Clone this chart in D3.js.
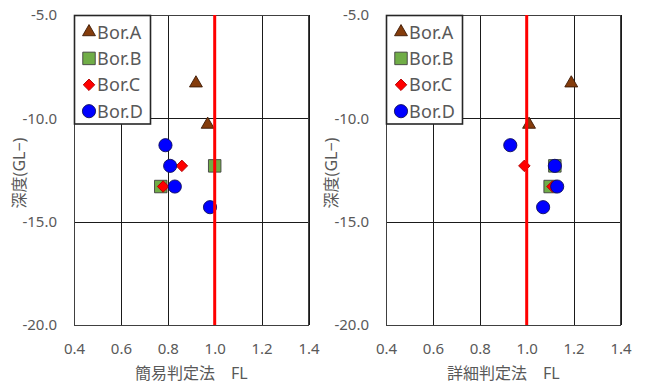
<!DOCTYPE html>
<html>
<head>
<meta charset="utf-8">
<script src="https://cdn.jsdelivr.net/npm/d3@7"></script>
<style>
  body { margin: 0; background: #fff; }
  text { font-family: "Noto Sans", "Noto Sans CJK JP", sans-serif; fill: #595959; }
</style>
</head>
<body>
<div id="chart"></div>
<script>
// chart.js

const chart_w = 645;
const chart_h = 385;

// Data: FL values per borehole, same depths in both panels
const series = ["Bor.A", "Bor.B", "Bor.C", "Bor.D"];

const depthA = [-8.3, -10.3];
const simpleA = [0.92, 0.97];
const detailA = [1.19, 1.01];

const depthB = [-12.3, -13.3];
const simpleB = [1.00, 0.77];
const detailB = [1.12, 1.10];

const depthC = [-12.3, -13.3];
const simpleC = [0.86, 0.78];
const detailC = [0.99, 1.11];

const depthD = [-11.3, -12.3, -13.3, -14.3];
const simpleD = [0.79, 0.81, 0.83, 0.98];
const detailD = [0.93, 1.12, 1.13, 1.07];

const xTicks = [0.4, 0.6, 0.8, 1.0, 1.2, 1.4];
const yTicks = [-5, -10, -15, -20];
const limitFL = 1.0;

const xTitles = ["簡易判定法\u2002\u2002FL", "詳細判定法\u2002\u2002FL"];
const yTitle = "深度(GL−)";

// Marker styles
const markers = {
    "Bor.A": { type: d3.symbolTriangle, size: 72, fill: "#843c0c", stroke: "#3d1a04", rot: 0 },
    "Bor.B": { type: d3.symbolSquare, size: 156, fill: "#70ad47", stroke: "#404040", rot: 0 },
    "Bor.C": { type: d3.symbolSquare, size: 66, fill: "#ff0000", stroke: "#b00000", rot: 45 },
    "Bor.D": { type: d3.symbolCircle, size: 136, fill: "#0000ff", stroke: "#10105a", rot: 0 }
};

const svg = d3.select("#chart")
    .append("svg")
    .attr("width", chart_w)
    .attr("height", chart_h);

const plotTop = 15;
const plotH = 310;
const plotW = 234.5;
const panelLeft = [74, 386];

function pointsOf(depths, fls) {
    return depths.map((d, i) => ({ depth: d, fl: fls[i] }));
}

const panelData = [
    [pointsOf(depthA, simpleA), pointsOf(depthB, simpleB), pointsOf(depthC, simpleC), pointsOf(depthD, simpleD)],
    [pointsOf(depthA, detailA), pointsOf(depthB, detailB), pointsOf(depthC, detailC), pointsOf(depthD, detailD)]
];

function drawPanel(p) {
    const g = svg.append("g")
        .attr("transform", `translate(${panelLeft[p]}, ${plotTop})`);

    const x = d3.scaleLinear().domain([0.4, 1.4]).range([0, plotW]);
    const y = d3.scaleLinear().domain([-5, -20]).range([0, plotH]);

    // grid + tick labels
    const yAxis = g.append("g")
        .call(d3.axisLeft(y).tickValues(yTicks).tickSize(-plotW).tickPadding(17)
            .tickFormat(d => d.toFixed(1)));
    const xAxis = g.append("g")
        .attr("transform", `translate(0, ${plotH})`)
        .call(d3.axisBottom(x).tickValues(xTicks).tickSize(-plotH).tickPadding(18)
            .tickFormat(d => d.toFixed(1)));

    [xAxis, yAxis].forEach(a => {
        a.select(".domain").remove();
        a.selectAll("line").attr("stroke", "#1a1a1a").attr("shape-rendering", "crispEdges");
        a.selectAll("text").attr("fill", "#595959").style("font-size", "15px")
            .attr("font-family", null);
    });

    g.append("rect")
        .attr("width", plotW)
        .attr("height", plotH)
        .attr("fill", "none")
        .attr("stroke", "#404040")
        .attr("shape-rendering", "crispEdges");

    // markers
    panelData[p].forEach((pts, si) => {
        const m = markers[series[si]];
        g.selectAll(null)
            .data(pts)
            .join("path")
            .attr("d", d3.symbol().type(m.type).size(m.size))
            .attr("transform", d => `translate(${x(d.fl)}, ${y(d.depth)}) rotate(${m.rot})`)
            .attr("fill", m.fill)
            .attr("stroke", m.stroke)
            .attr("stroke-width", 0.9);
    });

    // FL = 1.0 line
    g.append("line")
        .attr("x1", x(limitFL)).attr("x2", x(limitFL))
        .attr("y1", y(-5)).attr("y2", y(-20))
        .attr("stroke", "#ff0000")
        .attr("stroke-width", 3);

    // legend
    const lg = g.append("g");
    lg.append("rect")
        .attr("x", 0.5).attr("y", 0.5)
        .attr("width", 76).attr("height", 108.5)
        .attr("fill", "#fff")
        .attr("stroke", "#262626")
        .attr("stroke-width", 1.6);

    series.forEach((s, i) => {
        const m = markers[s];
        const cy = 17 + i * 26.4;
        lg.append("path")
            .attr("d", d3.symbol().type(m.type).size(m.size))
            .attr("transform", `translate(15, ${cy}) rotate(${m.rot})`)
            .attr("fill", m.fill)
            .attr("stroke", m.stroke)
            .attr("stroke-width", 0.9);
        lg.append("text")
            .attr("x", 23)
            .attr("y", cy + 6.5)
            .style("font-size", "18px")
            .style("letter-spacing", "0.2px")
            .text(s);
    });

    // titles
    g.append("text")
        .attr("x", plotW / 2)
        .attr("y", plotH + 54)
        .attr("text-anchor", "middle")
        .style("font-size", "16px")
        .text(xTitles[p]);

    g.append("text")
        .attr("transform", `translate(-49, ${plotH / 2 + 3}) rotate(-90)`)
        .attr("text-anchor", "middle")
        .style("font-size", "16px")
        .text(yTitle);
}

drawPanel(0);
drawPanel(1);
</script>
</body>
</html>
